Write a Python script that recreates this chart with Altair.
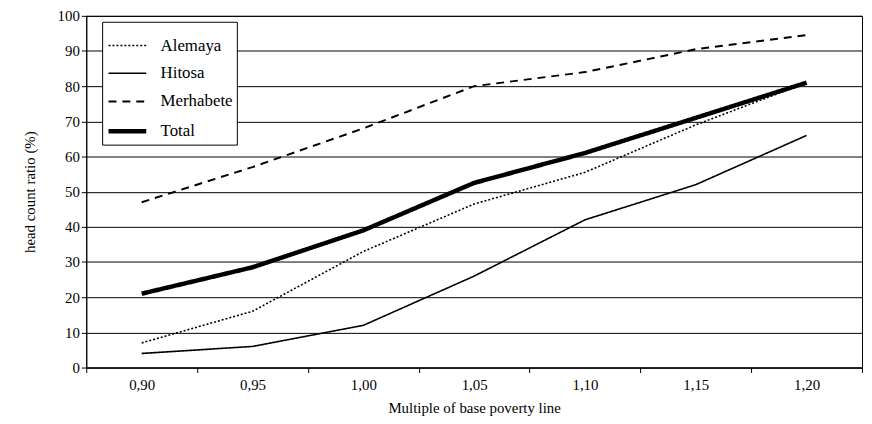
import altair as alt
import pandas as pd

multiples = ["0,90", "0,95", "1,00", "1,05", "1,10", "1,15", "1,20"]
series = ["Alemaya", "Hitosa", "Merhabete", "Total"]
alemaya = [7, 16, 33, 46.5, 55.5, 69, 81]
hitosa = [4, 6, 12, 26, 42, 52, 66]
merhabete = [47, 57, 68, 80, 84, 90.5, 94.5]
total = [21, 28.5, 39, 52.5, 61, 71, 81]

rows = []
for name, vals in zip(series, [alemaya, hitosa, merhabete, total]):
    for m, v in zip(multiples, vals):
        rows.append({"multiple": m, "series": name, "value": v})
df = pd.DataFrame(rows)

font = "Liberation Serif"

legend = alt.Legend(title=None, orient="none", legendX=16, legendY=6,
                    symbolType="stroke", symbolSize=1450, symbolStrokeColor="black",
                    strokeColor="black", fillColor="white", padding=4,
                    rowPadding=0, labelOffset=12, titlePadding=0)

chart = alt.Chart(df).mark_line(color="black").encode(
    x=alt.X("multiple:N", sort=multiples, title="Multiple of base poverty line",
            scale=alt.Scale(paddingInner=0, paddingOuter=0),
            axis=alt.Axis(labelAngle=0, tickBand="extent", grid=False, tickSize=5,
                          domainColor="black", tickColor="black", labelPadding=5,
                          titlePadding=8)),
    y=alt.Y("value:Q", title="head count ratio (%)",
            scale=alt.Scale(domain=[0, 100], nice=False),
            axis=alt.Axis(values=list(range(0, 101, 10)), tickSize=5, grid=True,
                          gridColor="black", gridOpacity=1, gridWidth=1,
                          domainColor="black", tickColor="black", titlePadding=20)),
    strokeDash=alt.StrokeDash("series:N",
        scale=alt.Scale(type="ordinal", domain=series, range=[[2, 2], [1, 0], [8, 6], [1, 0]]),
        legend=legend),
    strokeWidth=alt.StrokeWidth("series:N",
        scale=alt.Scale(type="ordinal", domain=series, range=[1.6, 1.6, 2, 4.5]),
        legend=legend),
).properties(
    width=783, height=355,
    background="white",
    autosize=alt.AutoSizeParams(type="none"),
    padding={"left": 79, "top": 6, "right": 2, "bottom": 47},
).configure_view(
    stroke="black", strokeWidth=1
).configure_axis(
    labelFont=font, titleFont=font, labelFontSize=15, titleFontSize=15,
    labelColor="black", titleColor="black", titleFontWeight="normal"
).configure_legend(
    labelFont=font, labelFontSize=17, labelColor="black"
)

chart.save("out.html", embed_options={"renderer": "svg", "actions": False})
